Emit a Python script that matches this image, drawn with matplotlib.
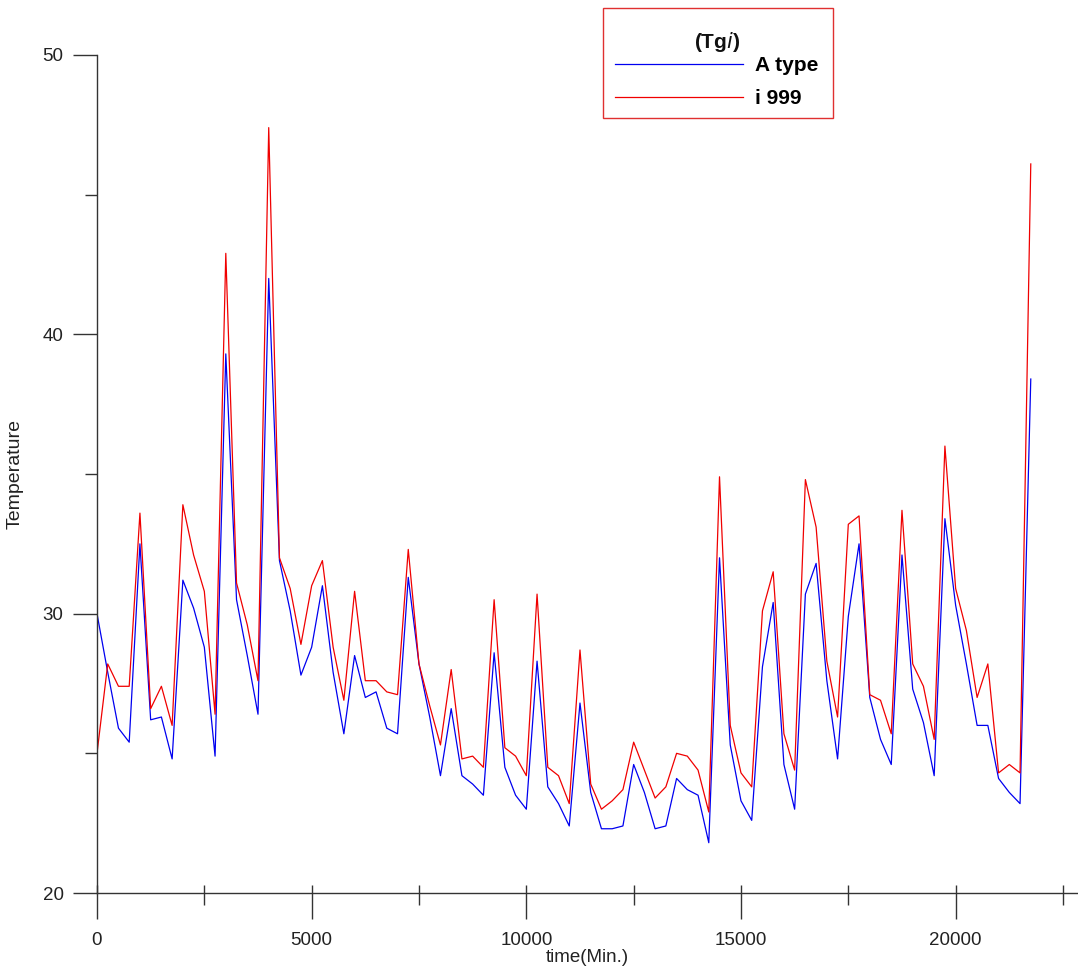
import numpy as np
import matplotlib
matplotlib.use("Agg")
import matplotlib.pyplot as plt
from matplotlib.ticker import MultipleLocator
from matplotlib.patches import Rectangle

plt.rcParams['font.family'] = ['Liberation Sans', 'DejaVu Sans']

# sample times (min), one reading every 250 min
time_min = np.arange(88) * 250

a_type = [30.0, 27.9, 25.9, 25.4, 32.5, 26.2, 26.3, 24.8, 31.2, 30.2,
          28.8, 24.9, 39.3, 30.5, 28.5, 26.4, 42.0, 31.9, 30.1, 27.8,
          28.8, 31.0, 27.9, 25.7, 28.5, 27.0, 27.2, 25.9, 25.7, 31.3,
          28.2, 26.3, 24.2, 26.6, 24.2, 23.9, 23.5, 28.6, 24.5, 23.5,
          23.0, 28.3, 23.8, 23.2, 22.4, 26.8, 23.6, 22.3, 22.3, 22.4,
          24.6, 23.6, 22.3, 22.4, 24.1, 23.7, 23.5, 21.8, 32.0, 25.3,
          23.3, 22.6, 28.1, 30.4, 24.6, 23.0, 30.7, 31.8, 27.6, 24.8,
          29.9, 32.5, 27.0, 25.5, 24.6, 32.1, 27.3, 26.1, 24.2, 33.4,
          30.3, 28.2, 26.0, 26.0, 24.1, 23.6, 23.2, 38.4]

i_999 = [25.0, 28.2, 27.4, 27.4, 33.6, 26.6, 27.4, 26.0, 33.9, 32.1,
         30.8, 26.4, 42.9, 31.1, 29.6, 27.6, 47.4, 32.0, 30.9, 28.9,
         31.0, 31.9, 28.8, 26.9, 30.8, 27.6, 27.6, 27.2, 27.1, 32.3,
         28.2, 26.7, 25.3, 28.0, 24.8, 24.9, 24.5, 30.5, 25.2, 24.9,
         24.2, 30.7, 24.5, 24.2, 23.2, 28.7, 23.9, 23.0, 23.3, 23.7,
         25.4, 24.4, 23.4, 23.8, 25.0, 24.9, 24.4, 22.9, 34.9, 26.0,
         24.3, 23.8, 30.1, 31.5, 25.7, 24.4, 34.8, 33.1, 28.3, 26.3,
         33.2, 33.5, 27.1, 26.9, 25.7, 33.7, 28.2, 27.4, 25.5, 36.0,
         30.9, 29.4, 27.0, 28.2, 24.3, 24.6, 24.3, 46.1]

W, H = 1078, 974
fig = plt.figure(figsize=(W/100, H/100), dpi=100)
ax = fig.add_axes([97/W, 1 - 893/H, 1 - 97/W, (893 - 55)/H])

ax.plot(time_min, a_type, color='#0000f0', lw=0.9, label='A type')
ax.plot(time_min, i_999, color='#f00000', lw=0.9, label='i 999')

ax.set_xlim(0, 22850)
ax.set_ylim(20, 50)
ax.spines['top'].set_visible(False)
ax.spines['right'].set_visible(False)
for s in ['left', 'bottom']:
    ax.spines[s].set_color('#333333')
    ax.spines[s].set_linewidth(1.0)

ax.xaxis.set_major_locator(MultipleLocator(5000))
ax.xaxis.set_minor_locator(MultipleLocator(2500))
ax.yaxis.set_major_locator(MultipleLocator(10))
ax.yaxis.set_minor_locator(MultipleLocator(5))

ax.tick_params(axis='x', which='major', direction='out', length=19, width=1,
               color='#333333', labelsize=13.5, labelcolor='#222222', pad=9)
ax.tick_params(axis='x', which='minor', direction='out', length=8.5, width=1,
               color='#333333')
ax.tick_params(axis='y', which='major', direction='out', length=17, width=1,
               color='#333333', labelsize=13.5, labelcolor='#222222', pad=7)
ax.tick_params(axis='y', which='minor', direction='out', length=8.5, width=1,
               color='#333333')

# short inward part of the x ticks
sec = ax.secondary_xaxis('bottom')
sec.xaxis.set_major_locator(MultipleLocator(2500))
sec.tick_params(direction='in', length=6, width=1, color='#333333',
                labelbottom=False)
sec.spines['bottom'].set_visible(False)

ax.set_xlabel('time(Min.)', fontsize=13.5, color='#222222', labelpad=0)
ax.set_ylabel('Temperature', fontsize=14, color='#222222', labelpad=14)

# legend: entries, separate title and red frame
leg = ax.legend(loc='upper left', bbox_to_anchor=(615/W, 1 - 56/H),
                bbox_transform=fig.transFigure, borderaxespad=0, borderpad=0,
                handlelength=6.15, handletextpad=0.55, labelspacing=0.68,
                frameon=False, prop={'size': 15, 'weight': 'bold'})
fig.text(717/W, 1 - 42/H, '(Tg$\\it{i}$)', ha='center', va='center',
         fontsize=15, fontweight='bold', color='#111111')
fig.add_artist(Rectangle((603/W, 1 - 118/H), 230/W, 110/H,
                         transform=fig.transFigure, fill=False,
                         edgecolor='#e03030', lw=1.0))

fig.savefig('out.png', dpi=100)
